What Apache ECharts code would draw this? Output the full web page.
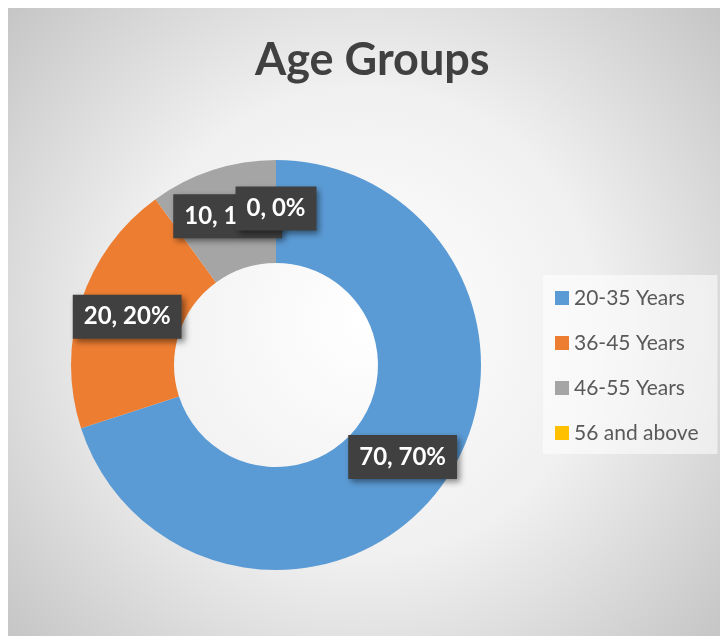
<!DOCTYPE html>
<html>
<head>
<meta charset="utf-8">
<script src="https://cdn.jsdelivr.net/npm/echarts@6/dist/echarts.min.js"></script>
<style>
  html, body { margin: 0; padding: 0; background: #ffffff; }
  #chart { position: absolute; left: 8px; top: 8px; width: 712px; height: 628px; }
</style>
</head>
<body>
<div id="chart"></div>
<script>
// data
var groups = ['20-35 Years', '36-45 Years', '46-55 Years', '56 and above'];
var counts = [70, 20, 10, 0];
var colors = ['#5B9BD5', '#ED7D31', '#A5A5A5', '#FFC000'];

var myChart = echarts.init(document.getElementById('chart'));

var pieData = [];
for (var i = 0; i < groups.length; i++) {
	pieData.push({ name: groups[i], value: counts[i] });
}

var option = {
	backgroundColor: {
		type: 'radial', x: 0.5, y: 0.5, r: 0.75,
		colorStops: [
			{ offset: 0, color: '#ffffff' },
			{ offset: 0.5, color: '#f0f0f0' },
			{ offset: 1, color: '#c6c6c6' }
		]
	},
	color: colors,
	title: {
		text: 'Age Groups',
		left: 242,
		top: 25,
		textStyle: {
			fontFamily: 'Lato',
			fontWeight: 'bold',
			fontSize: 45,
			color: '#404040'
		}
	},
	legend: {
		orient: 'vertical',
		left: 535,
		top: 267,
		icon: 'rect',
		itemWidth: 14,
		itemHeight: 14,
		itemGap: 23,
		padding: [12, 19, 10, 12],
		backgroundColor: 'rgba(255,255,255,0.55)',
		textStyle: {
			fontFamily: 'Lato',
			fontSize: 21,
			lineHeight: 22,
			color: '#595959'
		},
		data: groups
	},
	series: [
		{
			type: 'pie',
			center: [268, 357],
			radius: [102, 205],
			startAngle: 90,
			clockwise: true,
			avoidLabelOverlap: false,
			// the "0, 0%" box sits over the "10, 10%" one, keep both
			labelLayout: { hideOverlap: false },
			minShowLabelAngle: 0,
			silent: true,
			label: {
				show: true,
				position: 'inside',
				formatter: function (p) {
					return p.value + ', ' + Math.round(p.percent) + '%';
				},
				fontFamily: 'Lato',
				fontWeight: 'bold',
				fontSize: 24,
				lineHeight: 24,
				color: '#ffffff',
				backgroundColor: '#404040',
				padding: [10, 11, 10, 11],
				shadowColor: 'rgba(0,0,0,0.45)',
				shadowBlur: 6,
				shadowOffsetX: 3,
				shadowOffsetY: 3
			},
			labelLine: { show: false },
			itemStyle: { borderWidth: 0 },
			data: pieData
		}
	]
};
myChart.setOption(option);
</script>
</body>
</html>
